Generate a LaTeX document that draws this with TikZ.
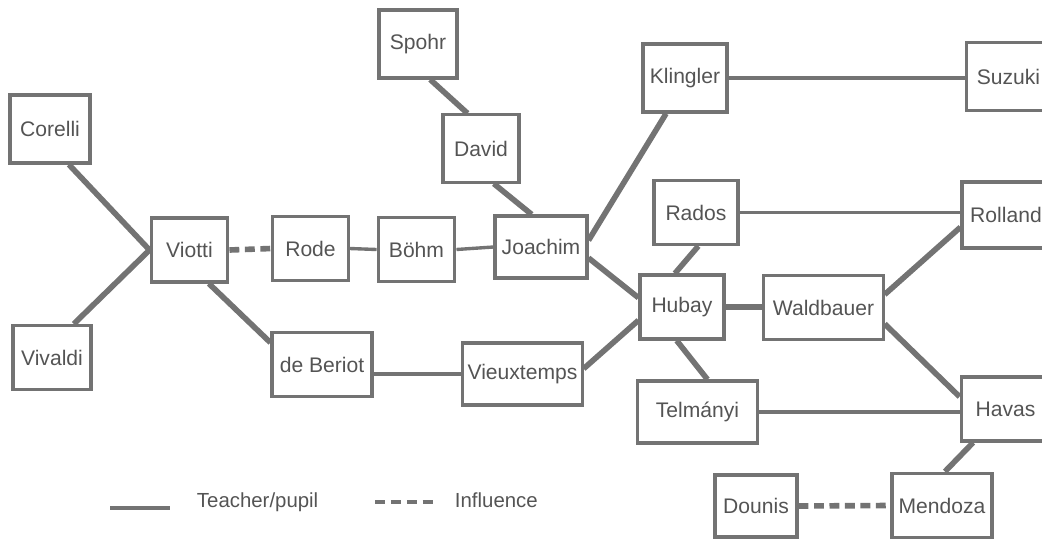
\documentclass[tikz,border=0pt]{standalone}
\usepackage{fontspec}
\setmainfont{Liberation Sans}
\definecolor{lead}{gray}{0.45}
\definecolor{ink}{gray}{0.33}
\tikzset{
  violinist/.style={draw=lead, line width=2.2pt, text=ink, inner sep=2pt,
    minimum height=1.6cm, font=\fontsize{15}{18}\selectfont},
  taught/.style={draw=lead, line width=4pt},
  taughth/.style={draw=lead, line width=2.4pt},
  influence/.style={draw=lead, line width=4pt, dash pattern=on 7pt off 4pt},
  keytext/.style={text=ink, anchor=west, font=\fontsize{14.5}{17}\selectfont}
}
\begin{document}
\begin{tikzpicture}[x=0.025cm, y=-0.025cm]
	\useasboundingbox (0,0) rectangle (1042,540);
	\clip (0,0) rectangle (1042,540);

	% the teachers
	\node[violinist, minimum width=2cm, minimum height=1.7cm] (corelli) at (50,129) {Corelli};
	\node[violinist, minimum width=1.95cm] (vivaldi) at (52,357.5) {Vivaldi};
	\node[violinist, minimum width=1.92cm] (viotti) at (189.5,250) {Viotti};
	\node[violinist, minimum width=1.88cm] (rode) at (310.5,248.5) {Rode};
	\node[violinist, minimum width=2.5cm] (deberiot) at (322,364.5) {de Beriot};
	\node[violinist, minimum width=1.92cm] (bohm) at (416.5,249.5) {Böhm};
	\node[violinist, minimum width=2.3cm, minimum height=1.55cm] (joachim) at (541,247) {Joachim};
	\node[violinist, minimum width=1.95cm, minimum height=1.7cm] (spohr) at (418,44) {Spohr};
	\node[violinist, minimum width=1.9cm, minimum height=1.68cm] (david) at (481,148.5) {David};
	\node[violinist, minimum width=2.1cm, minimum height=1.7cm] (klingler) at (685,78) {Klingler};
	\node[violinist, minimum width=2.1cm, minimum height=1.68cm] (suzuki) at (1008.5,76.5) {Suzuki};
	\node[violinist, minimum width=2.1cm] (rados) at (696,212.5) {Rados};
	\node[violinist, minimum width=2.2cm, minimum height=1.65cm] (rolland) at (1006,215) {Rolland};
	\node[violinist, minimum width=2.1cm] (hubay) at (682,307) {Hubay};
	\node[violinist, minimum width=2.98cm, minimum height=1.58cm] (waldbauer) at (823.5,307.5) {Waldbauer};
	\node[violinist, minimum width=2.98cm, minimum height=1.55cm] (telmanyi) at (697.5,412) {Telmányi};
	\node[violinist, minimum width=2.22cm] (havas) at (1005.5,409) {Havas};
	\node[violinist, minimum width=2.05cm, minimum height=1.55cm] (dounis) at (756,506) {Dounis};
	\node[violinist, minimum width=2.5cm, minimum height=1.62cm] (mendoza) at (942,505.5) {Mendoza};
	\node[violinist, minimum width=2.98cm, minimum height=1.55cm] (vieuxtemps) at (522.5,374) {Vieuxtemps};

	% teacher/pupil links
	\draw[taught] (corelli.-62) -- (viotti.west);
	\draw[taught] (vivaldi.57) -- (viotti.west);
	\draw[taught] (viotti.-60) -- (deberiot.157);
	\draw[taughth] (rode.east) -- (bohm.west);
	\draw[taughth] (bohm.east) -- (joachim.west);
	\draw[taught] (spohr.-71) -- (david.111);
	\draw[taught] (david.-70) -- (joachim.106);
	\draw[taught] (joachim.8) -- (klingler.-118);
	\draw[taught] (joachim.-13) -- (hubay.168);
	\draw[taughth] (klingler.east) -- (klingler.east -| suzuki.west);
	\draw[taught] (rados.-86) -- (hubay.102);
	\draw[taughth] (rados.east) -- (rados.east -| rolland.west);
	\draw[taught] (hubay.east) -- (hubay.east -| waldbauer.west);
	\draw[taught] (waldbauer.12) -- (rolland.-165);
	\draw[taught] (waldbauer.-15) -- (havas.165);
	\draw[taught] (hubay.-99) -- (telmanyi.73);
	\draw[taughth] (telmanyi.east) -- (telmanyi.east -| havas.west);
	\draw[taught] (havas.-134) -- (mendoza.85);
	\draw[taughth] (vieuxtemps.west) -- (vieuxtemps.west -| deberiot.east);
	\draw[taught] (vieuxtemps.5) -- (hubay.197);

	% influence
	\draw[influence] (viotti.east) -- (rode.west);
	\draw[influence] (dounis.east) -- (mendoza.west);

	% key
	\coordinate (solidA) at (110,508);
	\coordinate (solidB) at (170,508);
	\coordinate (dashA) at (375,502);
	\coordinate (dashB) at (435,502);
	\draw[draw=lead, line width=3.5pt] (solidA) -- (solidB);
	\draw[draw=lead, line width=3pt, dash pattern=on 7pt off 4.3pt] (dashA) -- (dashB);
	\node[keytext] (tpkey) at (192,502) {Teacher/pupil};
	\node[keytext] (infkey) at (450,500) {Influence};
\end{tikzpicture}
\end{document}
